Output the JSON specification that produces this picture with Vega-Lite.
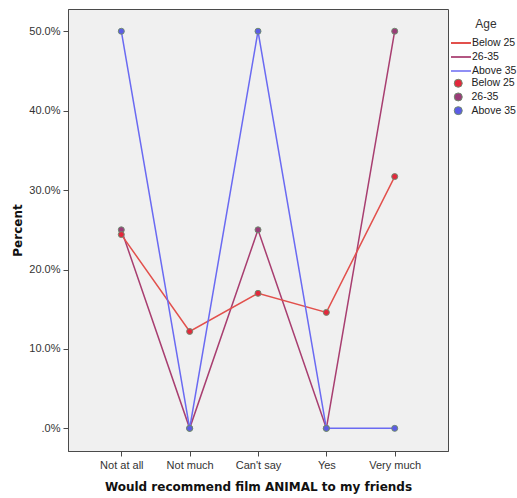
{
  "$schema": "https://vega.github.io/schema/vega-lite/v6.json",
  "autosize": {"type": "none"},
  "width": 380,
  "height": 442,
  "padding": {"left": 68, "top": 9, "right": 69, "bottom": 47},
  "background": "white",
  "config": {
    "view": {"fill": "#f0f0f0", "stroke": "#4a4a4a", "strokeWidth": 1},
    "font": "Liberation Sans",
    "axis": {
      "domainColor": "#4a4a4a",
      "tickColor": "#4a4a4a",
      "tickSize": 5,
      "labelFont": "Liberation Sans",
      "labelFontSize": 11,
      "labelColor": "#333333",
      "labelPadding": 3,
      "titleFont": "DejaVu Sans",
      "titleFontWeight": "bold",
      "titleFontSize": 12,
      "titleColor": "#111111",
      "grid": false
    },
    "legend": {
      "labelFont": "Liberation Sans",
      "labelFontSize": 10.5,
      "labelColor": "#222222",
      "titleFont": "Liberation Sans",
      "titleFontSize": 12,
      "titleFontWeight": "normal",
      "titleColor": "#333333",
      "padding": 0
    }
  },
  "data": {
    "values": [
      {"answer": "Not at all", "age": "26-35", "percent": 25.0},
      {"answer": "Not much", "age": "26-35", "percent": 0.0},
      {"answer": "Can't say", "age": "26-35", "percent": 25.0},
      {"answer": "Yes", "age": "26-35", "percent": 0.0},
      {"answer": "Very much", "age": "26-35", "percent": 50.0},
      {"answer": "Not at all", "age": "Below 25", "percent": 24.4},
      {"answer": "Not much", "age": "Below 25", "percent": 12.2},
      {"answer": "Can't say", "age": "Below 25", "percent": 17.0},
      {"answer": "Yes", "age": "Below 25", "percent": 14.6},
      {"answer": "Very much", "age": "Below 25", "percent": 31.7},
      {"answer": "Not at all", "age": "Above 35", "percent": 50.0},
      {"answer": "Not much", "age": "Above 35", "percent": 0.0},
      {"answer": "Can't say", "age": "Above 35", "percent": 50.0},
      {"answer": "Yes", "age": "Above 35", "percent": 0.0},
      {"answer": "Very much", "age": "Above 35", "percent": 0.0}
    ]
  },
  "encoding": {
    "x": {
      "field": "answer",
      "type": "ordinal",
      "sort": ["Not at all", "Not much", "Can't say", "Yes", "Very much"],
      "scale": {"type": "point", "padding": 0.78},
      "axis": {"labelAngle": 0, "title": "Would recommend film ANIMAL to my friends", "titlePadding": 11}
    },
    "y": {
      "field": "percent",
      "type": "quantitative",
      "scale": {"domain": [-2.85, 52.8], "nice": false, "zero": false},
      "axis": {
        "values": [0, 10, 20, 30, 40, 50],
        "labelExpr": "datum.value == 0 ? '.0%' : format(datum.value, '.1f') + '%'",
        "title": "Percent",
        "titlePadding": 4
      }
    }
  },
  "layer": [
    {
      "mark": {"type": "line", "strokeWidth": 1.5},
      "encoding": {
        "stroke": {
          "field": "age",
          "type": "nominal",
          "scale": {"domain": ["Below 25", "26-35", "Above 35"], "range": ["#e2504c", "#a83e70", "#6a6af2"]},
          "legend": {
            "title": "Age",
            "orient": "none",
            "legendX": 387,
            "legendY": 10,
            "symbolType": "M-2,0H2",
            "symbolSize": 100,
            "symbolStrokeWidth": 1.5,
            "symbolFillColor": "transparent",
            "labelOffset": 5,
            "rowPadding": 2,
            "titleAnchor": "middle",
            "titlePadding": 6
          }
        },
        "strokeWidth": {
          "field": "age",
          "type": "nominal",
          "scale": {"domain": ["Below 25", "26-35", "Above 35"], "range": [2, 1.5, 1.3]},
          "legend": null
        }
      }
    },
    {
      "mark": {"type": "point", "filled": true, "size": 36, "stroke": "#6f8a70", "strokeWidth": 1, "opacity": 1},
      "encoding": {
        "fill": {
          "field": "age",
          "type": "nominal",
          "sort": ["Below 25", "26-35", "Above 35"],
          "scale": {"range": ["#e3283c", "#9a3c78", "#5c5ce6"]},
          "legend": {
            "title": null,
            "orient": "none",
            "legendX": 385,
            "legendY": 69,
            "symbolType": "circle",
            "symbolSize": 64,
            "symbolStrokeColor": "#6f8a70",
            "symbolStrokeWidth": 1,
            "rowPadding": 0.7,
            "labelOffset": 8
          }
        }
      }
    }
  ]
}
